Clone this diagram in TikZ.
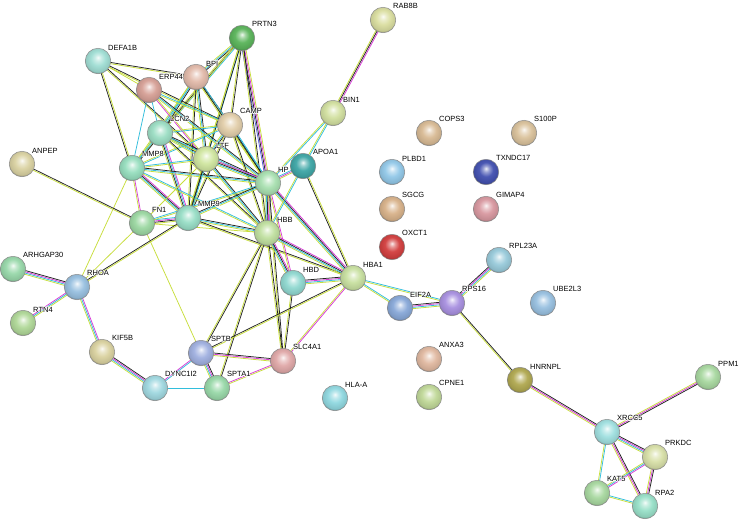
\documentclass[tikz,border=0pt]{standalone}
\usepackage{fontspec}
\setmainfont{Liberation Sans}
\usetikzlibrary{calc}
\pgfdeclarelayer{edges}
\pgfsetlayers{edges,main}
\colorlet{nodecol}{gray}
\pgfdeclareradialshading[nodecol]{glossy}{\pgfpoint{0bp}{7bp}}{%
  color(0bp)=(nodecol!10!white);
  color(6bp)=(nodecol!55!white);
  color(14bp)=(nodecol!95!white);
  color(25bp)=(nodecol!90!black);
  color(29bp)=(nodecol!55!black);
  color(50bp)=(nodecol!55!black)}
\definecolor{eY}{RGB}{200,222,60}
\definecolor{eK}{RGB}{35,35,35}
\definecolor{eC}{RGB}{50,190,220}
\definecolor{eM}{RGB}{215,60,215}
\definecolor{eB}{RGB}{90,90,225}
\newcount\edgn
\newcommand\edg[3]{%
  \global\edgn=0
  \foreach \c in {#3}{\global\advance\edgn by 1}%
  \foreach[count=\i] \c in {#3}{%
    \pgfmathsetmacro\off{(\i-1-(\the\edgn-1)/2)*1.25}%
    \draw[color=e\c, line width=0.75pt]
      ($(#1.center)!\off pt!90:(#2.center)$) -- ($(#2.center)!\off pt!-90:(#1.center)$);
  }}
\newcommand\wcopy[3]{\rlap{\kern#1\raisebox{#2}{\textcolor{white}{#3}}}}
\newcommand\halo[1]{\leavevmode
  \wcopy{0.7pt}{0pt}{#1}\wcopy{-0.7pt}{0pt}{#1}\wcopy{0pt}{0.7pt}{#1}\wcopy{0pt}{-0.7pt}{#1}%
  \wcopy{0.5pt}{0.5pt}{#1}\wcopy{-0.5pt}{0.5pt}{#1}\wcopy{0.5pt}{-0.5pt}{#1}\wcopy{-0.5pt}{-0.5pt}{#1}%
  #1}
\tikzset{
  nd/.style={circle, minimum size=25.5pt, inner sep=0pt, draw=black!45, line width=0.5pt,
    shading=glossy, shade, /utils/exec={\definecolor{nodecol}{RGB}{#1}}},
  lbl/.style={inner sep=0pt, label distance=1.2pt, font=\fontsize{7.5}{8}\selectfont, text=black}
}
\newcommand\N[5]{\node[nd={#4}, label={[lbl]45:\halo{#5}}] (#1) at (#2,#3) {};}
\begin{document}
\begin{tikzpicture}[x=1pt,y=-1pt]
\begin{pgfonlayer}{edges}
\fill[white] (0,0) rectangle (740,523);
\end{pgfonlayer}
\useasboundingbox (0,0) rectangle (740,523);
% nodes
\N{rab8b}{383}{20}{218,222,160}{RAB8B}
\N{prtn3}{242}{38}{90,180,90}{PRTN3}
\N{defa1b}{98}{61}{160,222,212}{DEFA1B}
\N{bpi}{196}{77}{226,186,170}{BPI}
\N{erp44}{149}{90}{214,160,150}{ERP44}
\N{bin1}{333}{113}{210,224,160}{BIN1}
\N{camp}{230}{125}{226,206,170}{CAMP}
\N{lcn2}{160}{133}{156,222,196}{LCN2}
\N{cops3}{429}{133}{216,186,148}{COPS3}
\N{s100p}{524}{133}{218,194,156}{S100P}
\N{anpep}{22}{164}{218,210,162}{ANPEP}
\N{mmp8}{132}{168}{150,222,190}{MMP8}
\N{ltf}{206}{159}{208,230,160}{LTF}
\N{apoa1}{303}{166}{62,166,166}{APOA1}
\N{hp}{268}{183}{168,224,176}{HP}
\N{plbd1}{392}{172}{146,200,232}{PLBD1}
\N{txndc17}{486}{172}{66,80,176}{TXNDC17}
\N{fn1}{142}{223}{156,216,162}{FN1}
\N{mmp9}{188}{218}{152,222,198}{MMP9}
\N{hbb}{267}{233}{192,224,160}{HBB}
\N{sgcg}{392}{209}{216,178,138}{SGCG}
\N{gimap4}{486}{209}{216,152,160}{GIMAP4}
\N{oxct1}{392}{247}{210,62,62}{OXCT1}
\N{rpl23a}{499}{260}{152,202,218}{RPL23A}
\N{arhgap30}{13}{269}{152,216,170}{ARHGAP30}
\N{rhoa}{77}{287}{152,192,224}{RHOA}
\N{hbd}{293}{283}{144,216,208}{HBD}
\N{hba1}{353}{278}{200,224,160}{HBA1}
\N{eif2a}{400}{308}{136,168,216}{EIF2A}
\N{rps16}{452}{303}{168,144,224}{RPS16}
\N{ube2l3}{543}{303}{152,192,224}{UBE2L3}
\N{rtn4}{23}{323}{176,216,152}{RTN4}
\N{kif5b}{102}{352}{218,210,160}{KIF5B}
\N{sptb}{201}{353}{160,176,224}{SPTB}
\N{slc4a1}{283}{361}{224,168,168}{SLC4A1}
\N{anxa3}{429}{359}{224,184,160}{ANXA3}
\N{dync1i2}{155}{388}{160,216,224}{DYNC1I2}
\N{spta1}{217}{388}{152,216,168}{SPTA1}
\N{hlaa}{335}{398}{144,216,224}{HLA-A}
\N{cpne1}{429}{397}{192,216,152}{CPNE1}
\N{hnrnpl}{520}{380}{176,168,80}{HNRNPL}
\N{ppm1}{708}{377}{168,216,160}{PPM1}
\N{xrcc5}{607}{432}{160,224,224}{XRCC5}
\N{prkdc}{655}{457}{216,224,168}{PRKDC}
\N{kat5}{597}{493}{168,216,160}{KAT5}
\N{rpa2}{645}{506}{152,224,200}{RPA2}
% edges
\begin{pgfonlayer}{edges}
\edg{rab8b}{bin1}{Y,K,M}
\edg{bin1}{hp}{Y,C}
\edg{bin1}{apoa1}{Y,C}
\edg{prtn3}{bpi}{Y,C,K}
\edg{prtn3}{lcn2}{Y,K,C}
\edg{prtn3}{mmp8}{Y}
\edg{prtn3}{camp}{Y,K}
\edg{prtn3}{ltf}{Y,C}
\edg{prtn3}{hp}{B,K,M,Y}
\edg{prtn3}{hbb}{Y,K}
\edg{prtn3}{mmp9}{Y,K}
\edg{defa1b}{bpi}{Y,K}
\edg{defa1b}{erp44}{Y}
\edg{defa1b}{camp}{Y,K}
\edg{defa1b}{ltf}{Y,K}
\edg{defa1b}{mmp8}{K,Y}
\edg{bpi}{lcn2}{Y,C,K}
\edg{bpi}{ltf}{Y,C,K}
\edg{bpi}{camp}{Y,K}
\edg{bpi}{mmp8}{Y,C}
\edg{bpi}{hp}{Y,K,C}
\edg{bpi}{mmp9}{Y,K}
\edg{erp44}{camp}{Y,C}
\edg{erp44}{ltf}{M,Y}
\edg{erp44}{lcn2}{C}
\edg{erp44}{mmp8}{C}
\edg{erp44}{hp}{Y,C,K}
\edg{camp}{lcn2}{Y,C}
\edg{camp}{ltf}{Y,C,K}
\edg{camp}{mmp8}{Y,C}
\edg{camp}{hp}{Y,K,C}
\edg{camp}{hbb}{Y,K}
\edg{camp}{mmp9}{Y,K}
\edg{lcn2}{mmp8}{Y,C,K}
\edg{lcn2}{ltf}{Y,C,K}
\edg{lcn2}{mmp9}{Y,K,C,M}
\edg{lcn2}{hp}{Y,C,K}
\edg{lcn2}{hbb}{Y,K}
\edg{mmp8}{ltf}{Y,C}
\edg{mmp8}{mmp9}{Y,C,K,M}
\edg{mmp8}{fn1}{Y,M}
\edg{mmp8}{hp}{Y,C,K}
\edg{mmp8}{hbb}{Y,C}
\edg{mmp8}{rhoa}{Y}
\edg{ltf}{mmp9}{Y,K,C}
\edg{ltf}{hp}{Y,C,K,M}
\edg{ltf}{hbb}{Y,C,K}
\edg{ltf}{fn1}{Y}
\edg{anpep}{fn1}{Y,K}
\edg{fn1}{mmp9}{Y,K,M,C}
\edg{fn1}{hp}{Y,C}
\edg{fn1}{rhoa}{Y}
\edg{fn1}{sptb}{Y}
\edg{fn1}{hbb}{Y}
\edg{mmp9}{hp}{Y,C,K}
\edg{mmp9}{hbb}{Y,C,K}
\edg{mmp9}{rhoa}{K,Y}
\edg{mmp9}{hba1}{Y,K}
\edg{hp}{apoa1}{Y,M,C}
\edg{hp}{hbb}{Y,C,K,M,B}
\edg{hp}{hbd}{Y,M}
\edg{hp}{hba1}{Y,C,K,M}
\edg{hp}{slc4a1}{Y,K}
\edg{apoa1}{hbb}{Y,C}
\edg{apoa1}{hba1}{K,Y}
\edg{hbb}{hbd}{Y,C,K,M}
\edg{hbb}{hba1}{Y,C,K,M}
\edg{hbb}{slc4a1}{Y,K}
\edg{hbb}{sptb}{Y,K}
\edg{hbb}{spta1}{Y,K}
\edg{hbd}{hba1}{Y,C,M,K}
\edg{hbd}{slc4a1}{Y,K}
\edg{hba1}{slc4a1}{Y,M}
\edg{hba1}{sptb}{K,Y}
\edg{hba1}{eif2a}{Y,C}
\edg{hba1}{rps16}{Y,C}
\edg{eif2a}{rps16}{Y,C,M,K}
\edg{rps16}{rpl23a}{Y,C,M,K}
\edg{rps16}{hnrnpl}{Y,K}
\edg{hnrnpl}{xrcc5}{Y,M,K}
\edg{ppm1}{xrcc5}{Y,M,K}
\edg{xrcc5}{prkdc}{Y,C,M,K}
\edg{xrcc5}{kat5}{Y,C}
\edg{xrcc5}{rpa2}{Y,M,K}
\edg{prkdc}{kat5}{Y,C,M}
\edg{prkdc}{rpa2}{Y,M,K}
\edg{kat5}{rpa2}{Y,C}
\edg{arhgap30}{rhoa}{Y,C,M,K}
\edg{rtn4}{rhoa}{Y,C,M}
\edg{rhoa}{kif5b}{Y,C,M}
\edg{kif5b}{dync1i2}{Y,C,M,K}
\edg{dync1i2}{sptb}{C,M}
\edg{dync1i2}{spta1}{C}
\edg{sptb}{spta1}{Y,C,M,K}
\edg{sptb}{slc4a1}{Y,M,K}
\edg{spta1}{slc4a1}{Y,M}
\end{pgfonlayer}
\end{tikzpicture}
\end{document}
